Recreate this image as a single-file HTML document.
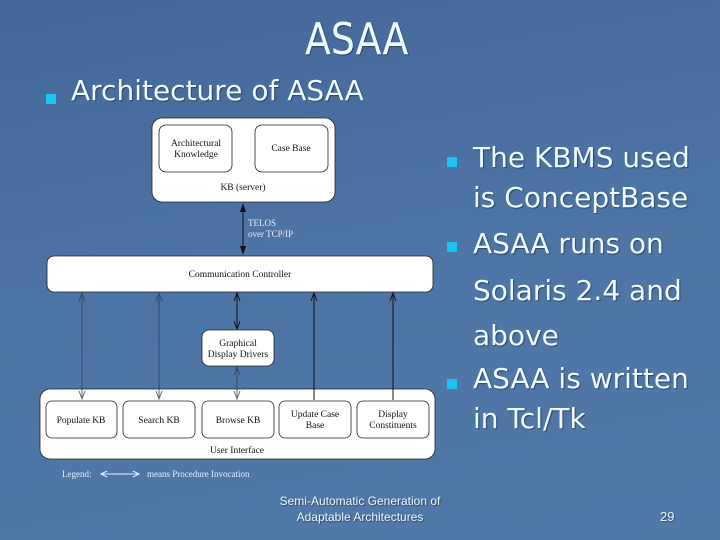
<!DOCTYPE html>
<html><head><meta charset="utf-8"><style>
html,body{margin:0;padding:0}
body{width:720px;height:540px;overflow:hidden;position:relative;background:linear-gradient(170deg,#44679a 0%,#4c74a4 45%,#5179a8 100%);font-family:"DejaVu Sans","Liberation Sans",sans-serif;color:#eefcff}
.t{position:absolute;white-space:nowrap;text-shadow:1px 1px 1px rgba(20,40,70,.6)}
.b{position:absolute;width:10px;height:10px;background:#1cc4f2}
.r{font-size:28px;left:473px}
</style></head><body>
<div class="t" style="left:305px;top:14px;font-size:44px;transform:scaleX(.86);transform-origin:left top;">ASAA</div>
<div class="b" style="left:46px;top:94px"></div>
<div class="t" style="left:71px;top:74px;font-size:28px;">Architecture of ASAA</div>

<div class="b" style="left:447px;top:157px"></div>
<div class="t r" style="top:141px">The KBMS used</div>
<div class="t r" style="top:181px">is ConceptBase</div>
<div class="b" style="left:447px;top:242px"></div>
<div class="t r" style="top:227px">ASAA runs on</div>
<div class="t r" style="top:274px">Solaris 2.4 and</div>
<div class="t r" style="top:319px">above</div>
<div class="b" style="left:447px;top:379px"></div>
<div class="t r" style="top:362px">ASAA is written</div>
<div class="t r" style="top:402px">in Tcl/Tk</div>

<div class="t" style="left:250px;width:220px;text-align:center;top:493px;font-size:12px;font-family:'Liberation Sans',sans-serif;line-height:16px">Semi-Automatic Generation of<br>Adaptable Architectures</div>
<div class="t" style="left:660px;top:509px;font-size:13px;font-family:'Liberation Sans',sans-serif">29</div>

<svg width="720" height="540" style="position:absolute;left:0;top:0" font-family="'Liberation Serif',serif" font-size="9.5" text-anchor="middle">
<g fill="#fff" stroke="#222" stroke-width="0.8">
<rect x="152" y="118" width="183" height="84" rx="10"/>
<rect x="159" y="125" width="73" height="47" rx="7"/>
<rect x="255" y="125" width="73" height="47" rx="7"/>
<rect x="47" y="256" width="386" height="36" rx="7"/>
<rect x="202" y="330" width="72" height="36" rx="7"/>
<rect x="40" y="389" width="395" height="70" rx="10"/>
<rect x="46" y="401" width="71" height="37" rx="6"/>
<rect x="123" y="401" width="72" height="37" rx="6"/>
<rect x="202" y="401" width="72" height="37" rx="6"/>
<rect x="279" y="401" width="72" height="37" rx="6"/>
<rect x="357" y="401" width="72" height="37" rx="6"/>
</g>
<g fill="#111">
<text x="196" y="146">Architectural</text><text x="196" y="157">Knowledge</text>
<text x="291" y="151">Case Base</text>
<text x="243" y="190">KB (server)</text>
<text x="240" y="277">Communication Controller</text>
<text x="238" y="346">Graphical</text><text x="238" y="357">Display Drivers</text>
<text x="81" y="423">Populate KB</text>
<text x="159" y="423">Search KB</text>
<text x="238" y="423">Browse KB</text>
<text x="315" y="417">Update Case</text><text x="315" y="428">Base</text>
<text x="393" y="417">Display</text><text x="393" y="428">Constituents</text>
<text x="237" y="453">User Interface</text>
</g>
<g fill="#e8f0ff" font-size="9" text-anchor="start">
<text x="248" y="226">TELOS</text><text x="248" y="237">over TCP/IP</text>
<text x="62" y="477">Legend:</text><text x="147" y="477">means Procedure Invocation</text>
</g>
<g stroke="#111" stroke-width="1">
<line x1="243" y1="206" x2="243" y2="252"/>
</g>
<polygon points="243,203 240,212 246,212" fill="#111"/>
<polygon points="243,255 240,246 246,246" fill="#111"/>
<g stroke="#2a3a55" stroke-width="1" fill="none" opacity=".75">
<line x1="82" y1="293" x2="82" y2="399"/><polyline points="79,301 82,293 85,301"/><polyline points="79,391 82,399 85,391"/>
<line x1="159" y1="293" x2="159" y2="399"/><polyline points="156,301 159,293 162,301"/><polyline points="156,391 159,399 162,391"/>
<line x1="237" y1="367" x2="237" y2="399"/><polyline points="234,375 237,367 240,375"/><polyline points="234,391 237,399 240,391"/>
</g>
<g stroke="#111" stroke-width="1" fill="none">
<line x1="237" y1="293" x2="237" y2="329"/><polyline points="234,301 237,293 240,301"/><polyline points="234,321 237,329 240,321"/>
<line x1="314" y1="293" x2="314" y2="400"/><polyline points="311,301 314,293 317,301"/>
<line x1="393" y1="293" x2="393" y2="400"/><polyline points="390,301 393,293 396,301"/>
<line x1="101" y1="474" x2="139" y2="474" stroke="#e8f0ff"/>
<polyline points="107,471 101,474 107,477" stroke="#e8f0ff"/><polyline points="133,471 139,474 133,477" stroke="#e8f0ff"/>
</g>
</svg>
</body></html>
